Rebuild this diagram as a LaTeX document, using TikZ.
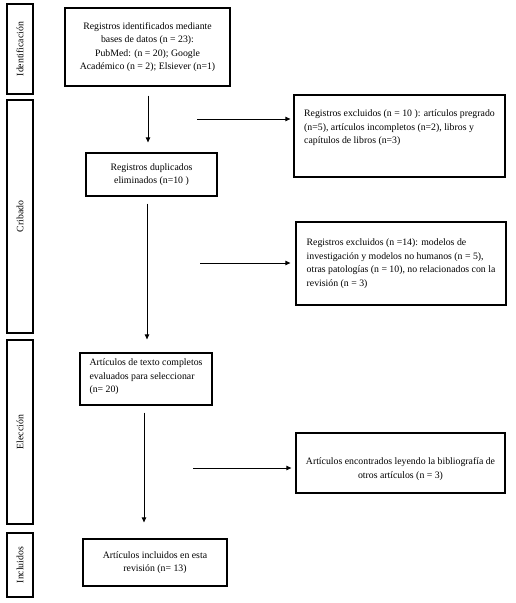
\documentclass[tikz,border=0pt]{standalone}
\usepackage{fontspec}
\setmainfont{Liberation Serif}
\usetikzlibrary{arrows.meta}
\newcommand\boxfont{\fontsize{9.8pt}{13.6pt}\selectfont}
\tikzset{
  box/.style={draw, line width=1.3pt, inner xsep=3pt, inner ysep=3pt, font=\boxfont},
  boxtext/.style={font=\boxfont, inner sep=0pt},
  sidebar/.style={draw, line width=1.6pt, rotate=90, minimum height=26pt, inner sep=0pt, font=\boxfont},
  arr/.style={line width=0.8pt, -{Triangle[length=5pt,width=4.5pt]}}
}
\begin{document}
\begin{tikzpicture}[x=1pt,y=1pt]
\useasboundingbox (0,0) rectangle (516,-603);
% side bars
\node[sidebar, minimum width=90pt]  (s1) at (20,-49)    {Identificación};
\node[sidebar, minimum width=233pt] (s2) at (20,-216.5) {Cribado};
\node[sidebar, minimum width=184pt] (s3) at (20,-432)   {Elección};
\node[sidebar, minimum width=64pt]  (s4) at (20,-565)   {Incluidos};
% main column
\node[box, align=center, minimum width=165pt, minimum height=78pt] (A) at (147.5,-47)
  {Registros identificados mediante\\bases de datos (n = 23):\\PubMed: (n = 20); Google\\Académico (n = 2); Elsiever (n=1)};
\node[box, align=center, minimum width=131pt, minimum height=43pt] (B) at (151.5,-174.5)
  {Registros duplicados\\eliminados (n=10 )};
\node[box, minimum width=132pt, minimum height=52pt,
  label={[boxtext, align=left, yshift=2pt]center:{Artículos de texto completos\\evaluados para seleccionar\\(n= 20)}}] (C) at (146,-379) {};
\node[box, align=center, minimum width=144pt, minimum height=47pt] (D) at (155,-562.5)
  {Artículos incluidos en esta\\revisión (n= 13)};
% right column
\node[box, minimum width=211pt, minimum height=82pt,
  label={[boxtext, align=left, yshift=8pt]center:{Registros excluidos (n = 10 ): artículos pregrado\\(n=5), artículos incompletos (n=2), libros y\\capítulos de libros (n=3)}}] (R1) at (399.5,-136) {};
\node[box, align=left, minimum width=210pt, minimum height=83pt] (R2) at (401,-263.5)
  {Registros excluidos (n =14): modelos de\\investigación y modelos no humanos (n = 5),\\otras patologías (n = 10), no relacionados con la\\revisión (n = 3)};
\node[box, minimum width=209pt, minimum height=60pt,
  label={[boxtext, align=center, yshift=-6pt]center:{Artículos encontrados leyendo la bibliografía de\\otros artículos (n = 3)}}] (R3) at (400.5,-463) {};
% free ends of side arrows
\coordinate (h1) at (197,-119);
\coordinate (h2) at (200,-263);
\coordinate (h3) at (193,-468);
% vertical arrows
\draw[arr, shorten <=9pt, shorten >=10pt] ([xshift=0.5pt]A.south) -- ([xshift=-3.5pt]B.north);
\draw[arr, shorten <=7pt, shorten >=13pt] ([xshift=-4.5pt]B.south) -- ([xshift=1pt]C.north);
\draw[arr, shorten <=7pt, shorten >=16pt] ([xshift=-2pt]C.south) -- ([xshift=-11pt]D.north);
% horizontal arrows
\draw[arr, shorten >=3pt] (h1) -- ([yshift=17pt]R1.west);
\draw[arr, shorten >=5pt] (h2) -- ([yshift=0.5pt]R2.west);
\draw[arr, shorten >=4pt] (h3) -- ([yshift=-5pt]R3.west);
\end{tikzpicture}
\end{document}
